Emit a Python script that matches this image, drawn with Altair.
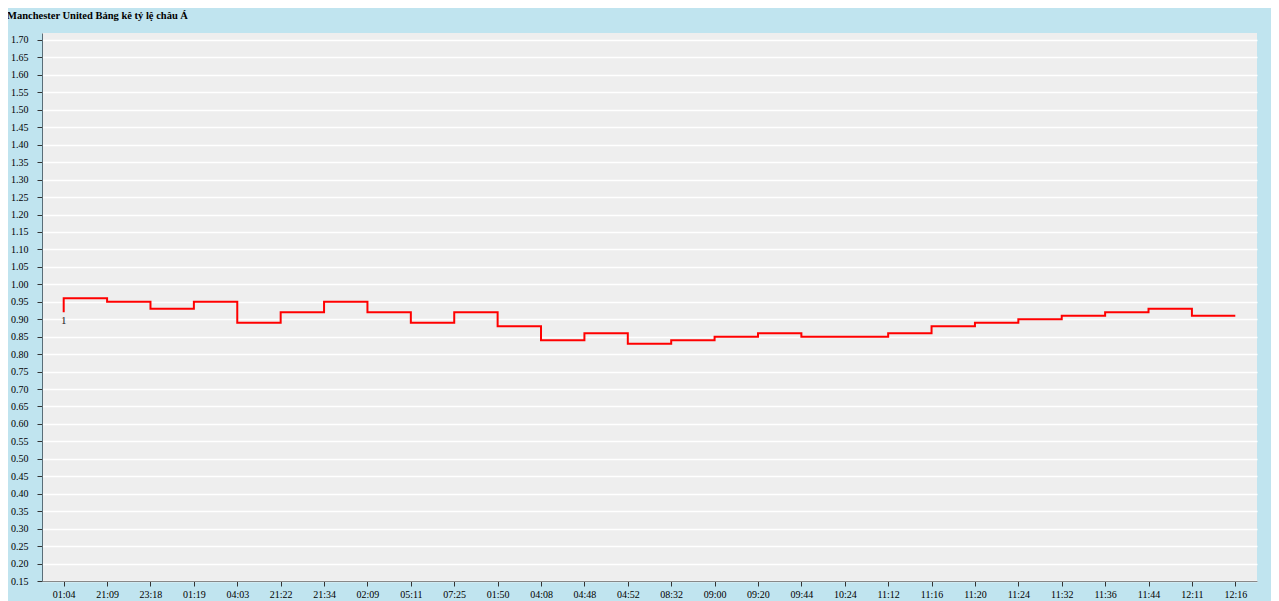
import altair as alt
import pandas as pd

times = ["01:04", "21:09", "23:18", "01:19", "04:03", "21:22", "21:34", "02:09",
         "05:11", "07:25", "01:50", "04:08", "04:48", "04:52", "08:32", "09:00",
         "09:20", "09:44", "10:24", "11:12", "11:16", "11:20", "11:24", "11:32",
         "11:36", "11:44", "12:11", "12:16"]
values = [0.92, 0.96, 0.95, 0.93, 0.95, 0.89, 0.92, 0.95,
          0.92, 0.89, 0.92, 0.88, 0.84, 0.86, 0.83, 0.84,
          0.85, 0.86, 0.85, 0.85, 0.86, 0.88, 0.89, 0.90,
          0.91, 0.92, 0.93, 0.91]
point_labels = ["1"] + [""] * (len(times) - 1)
y_ticks = [0.15, 0.20, 0.25, 0.30, 0.35, 0.40, 0.45, 0.50, 0.55, 0.60, 0.65,
           0.70, 0.75, 0.80, 0.85, 0.90, 0.95, 1.00, 1.05, 1.10, 1.15, 1.20,
           1.25, 1.30, 1.35, 1.40, 1.45, 1.50, 1.55, 1.60, 1.65, 1.70]

df = pd.DataFrame({"idx": list(range(len(times))), "time": times,
                   "value": values, "label": point_labels})

FONT = "Liberation Serif"

x_enc = alt.X("idx:O", sort=None,
              scale=alt.Scale(type="point", padding=0.5),
              axis=alt.Axis(title=None, labelExpr="%s[datum.value]" % str(times),
                            labelAngle=0, grid=False, tickSize=5, labelPadding=3,
                            labelOverlap=False,
                            domainColor="#888888", tickColor="#333333",
                            labelFont=FONT, labelFontSize=10, labelColor="#000000"))
y_enc = alt.Y("value:Q",
              scale=alt.Scale(domain=[0.15, 1.72], nice=False, zero=False),
              axis=alt.Axis(title=None, values=y_ticks, format=".2f", tickCount=100,
                            labelOverlap=False, labelFlush=False,
                            grid=True, gridColor="#ffffff", gridWidth=1.5,
                            tickSize=5, labelPadding=9, domainColor="#5a6e78",
                            tickColor="#333333", labelFont=FONT, labelFontSize=10,
                            labelColor="#000000"))

line = alt.Chart(df).mark_line(interpolate="step-before", color="#ff0000",
                               strokeWidth=2).encode(x=x_enc, y=y_enc)

text = alt.Chart(df).transform_filter("datum.label != ''").mark_text(
    font=FONT, fontSize=11, color="#222222", baseline="top", dy=3
).encode(x=alt.X("idx:O", sort=None), y=alt.Y("value:Q"), text="label:N")

chart = alt.layer(line, text).properties(
    width=1215, height=548,
    background="#c0e4ef",
    padding={"left": 34, "top": 25, "right": 14, "bottom": 20},
    autosize=alt.AutoSizeParams(type="none"),
    title=alt.TitleParams("Manchester United Bảng kê tỷ lệ châu Á", anchor="start",
                          frame="group", dx=-35, offset=12, font=FONT,
                          fontSize=10.5, fontWeight="bold", color="#000000"),
).configure_view(fill="#eeeeee", stroke=None)

chart.save("out.html", embed_options={"renderer": "svg", "actions": False})
